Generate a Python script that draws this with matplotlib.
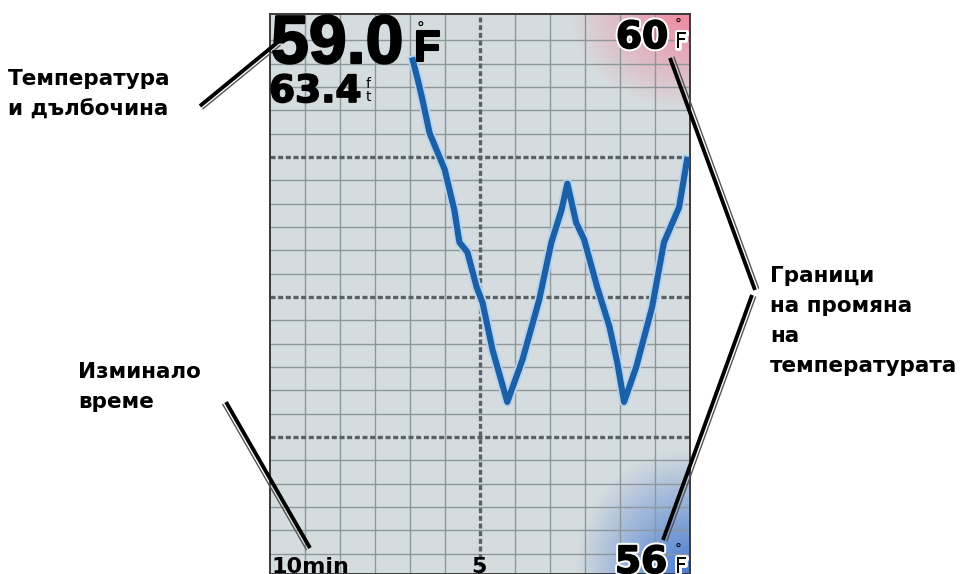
import numpy as np
import matplotlib.pyplot as plt
import matplotlib.patheffects as pe

# temperature trace, minutes from left edge (0 = 10 min ago) vs deg F
minutes = [3.40, 3.52, 3.63, 3.80, 4.16, 4.39, 4.51, 4.70, 4.92, 5.06, 5.30, 5.65,
           6.01, 6.41, 6.70, 6.94, 7.08, 7.29, 7.48, 7.79, 8.08, 8.27, 8.43,
           8.72, 9.10, 9.38, 9.74, 9.93]
temps = [59.69, 59.55, 59.41, 59.17, 58.91, 58.62, 58.39, 58.32, 58.07, 57.96, 57.62, 57.25,
         57.55, 57.98, 58.39, 58.62, 58.81, 58.53, 58.41, 58.07, 57.79, 57.53, 57.25,
         57.50, 57.93, 58.39, 58.64, 58.98]

t_max, t_min = 60, 56
cur_temp = "59.0"
cur_depth = "63.4"
time_labels = ["10min", "5"]

left_label = "Температура\nи дълбочина"
time_label = "Изминало\nвреме"
range_label = "Граници\nна промяна\nна\nтемпературата"

W, H = 961, 574
fig = plt.figure(figsize=(W/100, H/100), dpi=100)
fig.patch.set_facecolor('white')

# panel 270..690 px wide, 14..574 px tall
ax = fig.add_axes([270/W, 0, 420/W, 560/H])
ax.set_facecolor('#d5dcdf')
ax.set_xlim(0, 10)
ax.set_ylim(t_min + 0.021, t_max + 0.021)

# corner gradients
n = 300
gx, gy = np.meshgrid(np.linspace(0, 420, n), np.linspace(0, 560, n))
def blob(cx, cy, rx, ry, rgb, p, amax):
    d = np.hypot((gx - cx) / rx, (gy - cy) / ry)
    a = np.clip(1 - d, 0, 1) ** p
    img = np.zeros((n, n, 4))
    img[..., :3] = rgb
    img[..., 3] = a * amax
    return img
ax.imshow(blob(420, 560, 120, 95, (0.95, 0.48, 0.58), 1.0, 0.85), extent=[0, 1, 0, 1],
          origin='lower', transform=ax.transAxes, aspect='auto', zorder=0.5)
ax.imshow(blob(420, 0, 115, 125, (0.25, 0.46, 0.82), 1.0, 0.95), extent=[0, 1, 0, 1],
          origin='lower', transform=ax.transAxes, aspect='auto', zorder=0.5)

# grid
for xv in np.arange(1, 12) * 10 / 12:
    if abs(xv - 5) > 1e-6:
        ax.axvline(xv, color='#8d979b', lw=1.0, zorder=1)
for yv in t_min + np.arange(1, 24) / 6:
    if abs(yv - round(yv)) > 1e-6:
        ax.axhline(yv, color='#8d979b', lw=1.0, zorder=1)
ax.axvline(5, color='#5a6165', lw=2.4, ls=(0, (1.5, 0.8)), zorder=1.2)
for yv in [57, 58, 59]:
    ax.axhline(yv, color='#5a6165', lw=2.4, ls=(0, (1.5, 0.8)), zorder=1.2)

ax.plot(minutes, temps, color='#b4d3ee', lw=7, solid_joinstyle='round', zorder=2)
ax.plot(minutes, temps, color='#1b5fa6', lw=4.4, solid_joinstyle='round', zorder=3)

ax.set_xticks([])
ax.set_yticks([])
for s in ax.spines.values():
    s.set_color('#3a3a3a')
    s.set_linewidth(1.4)

# overlay in pixel coords for labels / pointers
ov = fig.add_axes([0, 0, 1, 1], facecolor='none')
ov.set_xlim(0, W)
ov.set_ylim(H, 0)
ov.axis('off')

heavy = [pe.withStroke(linewidth=1.5, foreground='black')]
halo = [pe.withStroke(linewidth=3.5, foreground='white')]
big = dict(family='Liberation Sans', weight='bold', color='black')
bold = dict(family='DejaVu Sans', weight='bold', color='black')
thin = dict(family='DejaVu Sans', color='black')

ov.text(271, 63, cur_temp, fontsize=49, va='baseline', ha='left', path_effects=heavy, **big)
ov.text(427, 61, "F", fontsize=31, va='baseline', ha='center', path_effects=heavy, **big)
ov.text(421, 34, "°", fontsize=11, va='baseline', ha='center', **bold)
ov.text(269, 102, cur_depth, fontsize=27, va='baseline', ha='left',
        path_effects=[pe.withStroke(linewidth=1.2, foreground='black')], **bold)
ov.text(368, 88, "f", fontsize=10, va='baseline', ha='center', **thin)
ov.text(368, 101, "t", fontsize=10, va='baseline', ha='center', **thin)

ov.text(616, 48, str(t_max), fontsize=27, va='baseline', ha='left',
        path_effects=[pe.withStroke(linewidth=4, foreground='white'),
                      pe.withStroke(linewidth=1.2, foreground='black')], **bold)
ov.text(681, 48, "F", fontsize=16, va='baseline', ha='center', path_effects=halo, **thin)
ov.text(678, 29, "°", fontsize=10, va='baseline', ha='center', **thin)
ov.text(615, 573, str(t_min), fontsize=27, va='baseline', ha='left',
        path_effects=[pe.withStroke(linewidth=4, foreground='white'),
                      pe.withStroke(linewidth=1.2, foreground='black')], **bold)
ov.text(681, 573, "F", fontsize=16, va='baseline', ha='center', path_effects=halo, **thin)
ov.text(678, 554, "°", fontsize=10, va='baseline', ha='center', **thin)

ov.text(272, 557, time_labels[0], fontsize=16, va='top', ha='left', **bold)
ov.text(479, 557, time_labels[1], fontsize=16, va='top', ha='center', **bold)

lab = dict(family='DejaVu Sans', weight='bold', fontsize=15.5, color='black',
           va='top', ha='left', linespacing=1.62)
ov.text(8, 69, left_label, **lab)
ov.text(78, 362, time_label, **lab)
ov.text(770, 266, range_label, **lab)

def pointer(x0, y0, x1, y1, side=1):
    dx, dy = x1 - x0, y1 - y0
    L = np.hypot(dx, dy)
    nx, ny = -dy / L * 4 * side, dx / L * 4 * side
    ov.plot([x0, x1], [y0, y1], color='black', lw=2.8, solid_capstyle='butt')
    ov.plot([x0 + nx, x1 + nx], [y0 + ny, y1 + ny], color='#555555', lw=1.0,
            solid_capstyle='butt')

pointer(200, 106, 278, 42)
pointer(226, 402, 310, 548)
pointer(670, 58, 755, 290, -1)
pointer(752, 295, 663, 540, -1)

fig.savefig('out.png', dpi=100, facecolor='white')
